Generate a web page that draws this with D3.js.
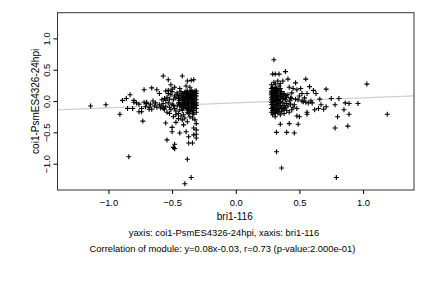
<!DOCTYPE html>
<html>
<head>
<meta charset="utf-8">
<script src="https://cdn.jsdelivr.net/npm/d3@7"></script>
<style>
  body { margin: 0; background: #fff; }
  svg text { font-family: "Liberation Sans", Arial, sans-serif; fill: #000; }
</style>
</head>
<body>
<div class="chart"></div>
<script>
(function() {
    var width = 432,
        height = 288;

    var margin = {left: 57.5, right: 18, top: 12.7, bottom: 98};

    // tick values
    var xTicks = [-1.0, -0.5, 0.0, 0.5, 1.0];
    var yTicks = [-1.0, -0.5, 0.0, 0.5, 1.0];

    // fitted line y = slope * x + intercept
    var slope = 0.08,
        intercept = -0.03;

    var xLabel = "bri1-116";
    var yLabel = "coi1-PsmES4326-24hpi";
    var subtitle = "yaxis: coi1-PsmES4326-24hpi, xaxis: bri1-116";
    var caption = "Correlation of module: y=0.08x-0.03, r=0.73 (p-value:2.000e-01)";

    // left cluster (bri1-116 < 0)
    var leftCore = [
        [-0.31,0.02],[-0.32,-0.05],[-0.33,0.10],[-0.31,-0.12],[-0.34,0.15],[-0.35,-0.02],[-0.36,0.06],[-0.32,0.13],[-0.37,-0.08],[-0.38,0.01],
        [-0.31,-0.18],[-0.33,-0.15],[-0.34,0.04],[-0.35,0.11],[-0.36,-0.11],[-0.39,0.08],[-0.40,-0.04],[-0.41,0.03],[-0.42,-0.10],[-0.43,0.06],
        [-0.31,0.08],[-0.32,0.16],[-0.33,-0.01],[-0.34,-0.09],[-0.35,0.17],[-0.36,-0.17],[-0.37,0.12],[-0.38,-0.13],[-0.39,-0.02],[-0.40,0.14],
        [-0.31,-0.07],[-0.32,0.05],[-0.33,-0.21],[-0.34,-0.04],[-0.35,0.07],[-0.36,0.00],[-0.37,0.03],[-0.38,0.09],[-0.39,-0.07],[-0.40,0.05],
        [-0.41,-0.12],[-0.42,0.02],[-0.43,-0.05],[-0.44,0.09],[-0.45,-0.03],[-0.44,-0.14],[-0.42,0.12],[-0.41,-0.06],[-0.43,0.15],[-0.45,0.04],
        [-0.31,0.12],[-0.32,-0.10],[-0.33,0.06],[-0.34,0.10],[-0.35,-0.14],[-0.36,0.14],[-0.37,-0.03],[-0.38,0.16],[-0.39,0.11],[-0.40,-0.09],
        [-0.32,-0.02],[-0.33,0.02],[-0.34,-0.19],[-0.35,0.03],[-0.36,0.09],[-0.37,-0.15],[-0.38,-0.05],[-0.39,0.04],[-0.41,0.07],[-0.42,-0.02],
        [-0.31,-0.03],[-0.33,-0.07],[-0.35,-0.06],[-0.37,0.07],[-0.39,-0.11],[-0.41,0.11],[-0.43,-0.08],[-0.44,0.01],[-0.32,0.09],[-0.36,0.04],
        [-0.31,0.16],[-0.34,0.13],[-0.38,-0.18],[-0.40,0.00],[-0.42,-0.15],[-0.44,-0.06],[-0.33,-0.12],[-0.37,-0.20],[-0.39,0.15],[-0.35,-0.10]
    ];
    var leftMid = [
        [-0.46,-0.08],[-0.47,0.05],[-0.48,-0.12],[-0.49,0.02],[-0.50,-0.05],[-0.51,0.10],[-0.52,-0.10],[-0.53,-0.03],[-0.54,0.06],[-0.55,-0.09],
        [-0.56,-0.13],[-0.57,-0.04],[-0.58,0.02],[-0.59,-0.11],[-0.60,-0.06],[-0.46,0.13],[-0.47,-0.16],[-0.48,0.08],[-0.49,-0.07],[-0.50,0.15],
        [-0.51,-0.14],[-0.52,0.03],[-0.53,0.12],[-0.54,-0.18],[-0.55,0.01],[-0.56,0.04],[-0.57,-0.12],[-0.58,-0.08],[-0.62,-0.10],[-0.63,-0.03],
        [-0.64,-0.08],[-0.65,0.00],[-0.66,-0.13],[-0.67,-0.05],[-0.68,-0.10],[-0.70,-0.04],[-0.71,-0.09],[-0.72,-0.02],[-0.74,-0.12],[-0.76,-0.05],
        [-0.78,-0.03],[-0.80,0.01],[-0.47,-0.22],[-0.49,-0.25],[-0.52,-0.20],[-0.45,-0.20],[-0.43,-0.24],[-0.41,-0.22],[-0.46,0.10],[-0.53,0.17]
    ];
    var leftOuter = [
        [-0.57,0.40],[-0.53,0.34],[-0.42,0.40],[-0.38,0.32],[-0.35,0.33],[-0.33,0.34],[-0.48,0.22],[-0.51,0.26],[-0.44,0.20],[-0.39,0.24],
        [-0.36,0.22],[-0.55,0.16],[-0.60,0.12],[-0.62,0.18],[-0.50,0.19],
        [-1.14,-0.08],[-1.02,-0.06],[-0.91,-0.21],[-0.84,-0.89],[-0.83,0.10],[-0.89,0.01],[-0.85,-0.12],[-0.81,-0.12],[-0.80,-0.02],[-0.86,0.04],
        [-0.73,-0.32],[-0.72,0.18],[-0.66,0.21],[-0.76,-0.17],[-0.74,-0.17],[-0.70,-0.02],[-0.68,-0.13],
        [-0.55,-0.35],[-0.54,-0.62],[-0.50,-0.42],[-0.50,-0.49],[-0.48,-0.69],[-0.48,-0.76],[-0.49,-0.74],[-0.44,-0.51],[-0.39,-0.49],[-0.38,-0.33],
        [-0.37,-0.57],[-0.33,-0.54],[-0.31,-0.46],[-0.31,-0.53],[-0.31,-0.59],[-0.37,-0.67],[-0.34,-0.67],[-0.38,-0.93],[-0.35,-1.22],[-0.40,-1.32],
        [-0.42,-0.30],[-0.45,-0.28],[-0.34,-0.27],[-0.32,-0.30],[-0.31,-0.36],[-0.36,-0.25],[-0.40,-0.27],[-0.47,-0.34],[-0.33,-0.43],[-0.41,-0.38]
    ];

    // right cluster (bri1-116 > 0)
    var rightCore = [
        [0.28,0.02],[0.29,-0.05],[0.30,0.10],[0.28,-0.12],[0.29,0.15],[0.30,-0.02],[0.31,0.06],[0.28,0.13],[0.32,-0.08],[0.33,0.01],
        [0.28,-0.18],[0.29,0.08],[0.30,0.04],[0.31,0.11],[0.32,-0.11],[0.33,0.08],[0.34,-0.04],[0.35,0.03],[0.28,0.20],[0.29,-0.15],
        [0.30,0.18],[0.31,-0.14],[0.32,0.13],[0.33,-0.13],[0.34,0.16],[0.35,-0.08],[0.28,0.06],[0.29,0.00],[0.30,-0.09],[0.31,0.01],
        [0.32,0.04],[0.33,0.18],[0.34,0.09],[0.35,0.12],[0.28,-0.06],[0.29,0.22],[0.30,-0.18],[0.31,0.21],[0.32,-0.02],[0.33,-0.06],
        [0.34,-0.12],[0.35,-0.01],[0.36,0.07],[0.37,-0.03],[0.38,0.05],[0.28,0.10],[0.29,-0.10],[0.30,0.14],[0.31,-0.06],[0.32,0.08],
        [0.33,0.12],[0.34,0.02],[0.36,-0.10],[0.37,0.10],[0.38,-0.07],[0.39,0.02],[0.40,-0.04],[0.28,-0.02],[0.29,0.04],[0.30,0.07],
        [0.31,-0.20],[0.32,0.17],[0.33,0.04],[0.34,-0.17],[0.36,0.15],[0.37,0.04],[0.38,-0.12],[0.39,0.09],[0.40,0.06],[0.41,-0.08],
        [0.42,0.00],[0.43,-0.05],[0.44,0.04],[0.45,-0.10],[0.28,0.16],[0.30,0.00],[0.32,0.20],[0.34,0.24],[0.36,-0.16],[0.38,0.12],
        [0.29,0.12],[0.31,0.16],[0.33,-0.19],[0.35,0.20],[0.37,-0.14],[0.39,-0.10],[0.41,0.10],[0.43,0.05],[0.30,-0.13],[0.32,-0.16],
        [0.29,-0.22],[0.31,-0.25],[0.35,-0.22],[0.38,-0.20],[0.40,-0.15],[0.42,-0.18],[0.44,-0.14],[0.46,-0.06],[0.47,0.03],[0.48,-0.12]
    ];
    var rightOuter = [
        [0.30,0.66],[0.29,0.43],[0.31,0.43],[0.34,0.43],[0.39,0.47],[0.41,0.35],[0.37,0.32],[0.33,0.32],[0.30,0.30],[0.31,0.27],
        [0.35,0.28],[0.28,0.26],[0.47,0.29],[0.55,0.35],[0.45,0.20],[0.48,0.18],[0.51,0.20],[0.52,0.12],[0.58,0.23],[0.61,0.17],
        [0.63,0.12],[0.42,0.22],[0.44,0.13],[0.50,0.08],[0.56,0.12],[0.71,0.19],
        [0.75,0.04],[0.81,0.04],[1.03,0.27],[1.19,-0.21],[0.78,-0.06],[0.86,-0.03],[0.89,-0.04],[0.96,-0.04],[0.85,-0.14],[0.89,-0.21],
        [0.80,-0.25],[0.78,-0.43],[0.88,-0.40],[0.79,-1.22],[0.53,-0.01],[0.55,-0.02],[0.57,-0.03],[0.59,0.00],[0.60,-0.03],[0.65,-0.12],
        [0.67,-0.06],[0.69,-0.13],[0.71,-0.09],[0.62,-0.14],[0.56,-0.18],[0.56,-0.21],[0.48,-0.24],[0.50,-0.25],[0.49,-0.37],[0.42,-0.36],
        [0.35,-0.37],[0.32,-0.50],[0.40,-0.50],[0.46,-0.51],[0.32,-0.81],[0.36,-1.07],[0.52,0.00],[0.66,0.03],[0.49,0.02],[0.54,0.05]
    ];

    var points = leftCore.concat(leftMid, leftOuter, rightCore, rightOuter);

    var x = d3.scaleLinear()
        .domain([-1.4, 1.4])
        .range([margin.left, width - margin.right]);

    var y = d3.scaleLinear()
        .domain([-1.42, 1.41])
        .range([height - margin.bottom, margin.top]);

    var svg = d3.select(".chart").append("svg")
        .attr("width", width)
        .attr("height", height);

    // regression line, clipped to the plot box
    svg.append("clipPath").attr("id", "plotclip")
        .append("rect")
        .attr("x", x.range()[0]).attr("y", y.range()[1])
        .attr("width", x.range()[1] - x.range()[0])
        .attr("height", y.range()[0] - y.range()[1]);

    var xd = x.domain();
    svg.append("line")
        .attr("clip-path", "url(#plotclip)")
        .attr("x1", x(xd[0])).attr("y1", y(slope * xd[0] + intercept))
        .attr("x2", x(xd[1])).attr("y2", y(slope * xd[1] + intercept))
        .attr("stroke", "#cfcfcf")
        .attr("stroke-width", 1.2);

    // "+" markers
    var arm = 2.5;
    svg.append("g")
        .selectAll("path")
        .data(points)
        .enter().append("path")
        .attr("d", function(d) {
            var px = x(d[0]), py = y(d[1]);
            return "M" + (px - arm) + "," + py + "H" + (px + arm) +
                   "M" + px + "," + (py - arm) + "V" + (py + arm);
        })
        .attr("stroke", "#000")
        .attr("stroke-width", 1.1)
        .attr("fill", "none");

    // box
    svg.append("rect")
        .attr("x", x.range()[0]).attr("y", y.range()[1])
        .attr("width", x.range()[1] - x.range()[0])
        .attr("height", y.range()[0] - y.range()[1])
        .attr("fill", "none")
        .attr("stroke", "#333")
        .attr("stroke-width", 1);

    // axes
    var xAxis = svg.append("g")
        .attr("transform", "translate(0," + y.range()[0] + ")")
        .call(d3.axisBottom(x).tickValues(xTicks).tickSize(4).tickFormat(d3.format(".1f")));
    xAxis.select(".domain").remove();
    xAxis.selectAll("text").attr("font-size", 9.4).attr("dy", null).attr("y", 15.5)
        .style("font-family", "'Liberation Sans', Arial, sans-serif");

    var yAxis = svg.append("g")
        .attr("transform", "translate(" + x.range()[0] + ",0)")
        .call(d3.axisLeft(y).tickValues(yTicks).tickSize(4).tickFormat(d3.format(".1f")));
    yAxis.select(".domain").remove();
    yAxis.selectAll(".tick text")
        .attr("font-size", 9.4)
        .attr("x", null).attr("dy", null)
        .attr("text-anchor", "middle")
        .attr("transform", "translate(-7.5,0) rotate(-90)")
        .style("font-family", "'Liberation Sans', Arial, sans-serif");

    // labels
    svg.append("text")
        .attr("x", (x.range()[0] + x.range()[1]) / 2 - 1)
        .attr("y", 219.5)
        .attr("text-anchor", "middle")
        .attr("font-size", 10)
        .text(xLabel);

    svg.append("text")
        .attr("transform", "translate(38.5," + ((y.range()[0] + y.range()[1]) / 2) + ") rotate(-90)")
        .attr("text-anchor", "middle")
        .attr("font-size", 10)
        .text(yLabel);

    svg.append("text")
        .attr("x", 224)
        .attr("y", 235.5)
        .attr("text-anchor", "middle")
        .attr("font-size", 9.4)
        .text(subtitle);

    svg.append("text")
        .attr("x", 222.5)
        .attr("y", 251.5)
        .attr("text-anchor", "middle")
        .attr("font-size", 9.4)
        .text(caption);
})();
</script>
</body>
</html>
